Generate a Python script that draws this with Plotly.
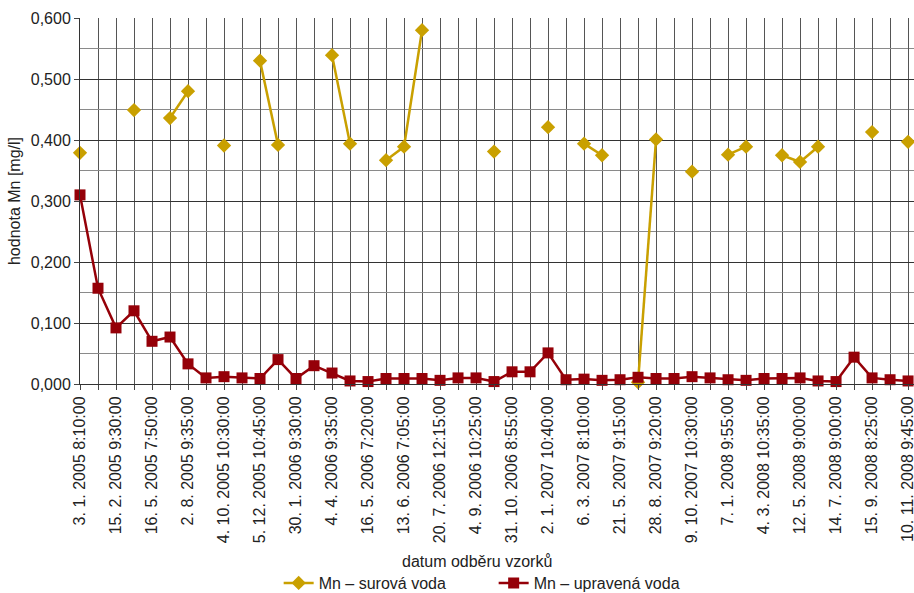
import plotly.graph_objects as go

# category index 0..46 (sampling dates); labels shown for every second category
tick_labels = [
    "3. 1. 2005 8:10:00", "15. 2. 2005 9:30:00", "16. 5. 2005 7:50:00", "2. 8. 2005 9:35:00",
    "4. 10. 2005 10:30:00", "5. 12. 2005 10:45:00", "30. 1. 2006 9:30:00", "4. 4. 2006 9:35:00",
    "16. 5. 2006 7:20:00", "13. 6. 2006 7:05:00", "20. 7. 2006 12:15:00", "4. 9. 2006 10:25:00",
    "31. 10. 2006 8:55:00", "2. 1. 2007 10:40:00", "6. 3. 2007 8:10:00", "21. 5. 2007 9:15:00",
    "28. 8. 2007 9:20:00", "9. 10. 2007 10:30:00", "7. 1. 2008 9:55:00", "4. 3. 2008 10:35:00",
    "12. 5. 2008 9:00:00", "14. 7. 2008 9:00:00", "15. 9. 2008 8:25:00", "10. 11. 2008 9:45:00",
]
n_cat = 47
cat_idx = list(range(n_cat))
tick_idx = list(range(0, n_cat, 2))

N = None
surova = [
    0.379, N, N, 0.449, N, 0.436, 0.480, N, 0.391, N,
    0.530, 0.392, N, N, 0.539, 0.394, N, 0.367, 0.389, 0.580,
    N, N, N, 0.381, N, N, 0.421, N, 0.394, 0.375,
    N, 0.003, 0.401, N, 0.348, N, 0.376, 0.389, N, 0.375,
    0.364, 0.389, N, N, 0.413, N, 0.397,
]
upravena = [
    0.310, 0.157, 0.092, 0.120, 0.070, 0.077, 0.033, 0.010, 0.012, 0.010,
    0.009, 0.040, 0.009, 0.030, 0.018, 0.005, 0.004, 0.009, 0.009, 0.009,
    0.006, 0.010, 0.010, 0.004, 0.020, 0.020, 0.051, 0.007, 0.008, 0.006,
    0.007, 0.011, 0.009, 0.009, 0.012, 0.010, 0.007, 0.006, 0.009, 0.009,
    0.010, 0.005, 0.004, 0.044, 0.010, 0.007, 0.005,
]

FONT = "Arial, Liberation Sans, Helvetica, sans-serif"
GOLD = "#C9A000"
RED = "#950008"

fig = go.Figure()
fig.add_trace(go.Scatter(
    x=cat_idx, y=surova, name="Mn – surová voda", mode="lines+markers",
    connectgaps=False,
    line=dict(color=GOLD, width=2.5),
    marker=dict(symbol="diamond", size=11, color=GOLD),
    cliponaxis=False,
))
fig.add_trace(go.Scatter(
    x=cat_idx, y=upravena, name="Mn – upravená voda", mode="lines+markers",
    line=dict(color=RED, width=2.5),
    marker=dict(symbol="square", size=11, color=RED),
    cliponaxis=False,
))

fig.update_layout(
    width=914, height=593,
    margin=dict(l=80, r=0, t=18, b=209, autoexpand=False),
    paper_bgcolor="white", plot_bgcolor="white",
    separators=", ",
    font=dict(family=FONT, size=16, color="#222"),
    showlegend=True,
    legend=dict(orientation="h", x=0.496, xanchor="center",
                yref="container", y=0.0169, yanchor="middle",
                font=dict(size=16, color="#222"), bgcolor="rgba(0,0,0,0)",
                entrywidth=170, itemwidth=30),
    xaxis=dict(
        range=[0, 46.33], tickmode="array", tickvals=tick_idx, ticktext=tick_labels,
        tickangle=-90, ticks="outside", ticklen=5, tickcolor="#444",
        ticklabeloverflow="allow", automargin=False,
        showgrid=True, gridcolor="#555", gridwidth=1,
        showline=True, linecolor="#333", linewidth=1, zeroline=False,
        tickfont=dict(size=16, color="#222"),
        minor=dict(tick0=0, dtick=1, showgrid=True, gridcolor="#555", gridwidth=1,
                   ticks="outside", ticklen=5, tickcolor="#444"),
    ),
    yaxis=dict(
        range=[0, 0.6], dtick=0.1, tickformat=".3f", automargin=False,
        ticks="outside", ticklen=5, tickcolor="#444",
        showgrid=True, gridcolor="#333", gridwidth=1,
        showline=True, linecolor="#333", linewidth=1, zeroline=False,
        tickfont=dict(size=16, color="#222"),
        minor=dict(dtick=0.05, showgrid=True, gridcolor="#8a8a8a", gridwidth=1),
    ),
    annotations=[
        dict(text="datum odběru vzorků", xref="paper", yref="paper",
             x=0.476, y=-0.484, xanchor="center", yanchor="middle", showarrow=False,
             font=dict(size=16, color="#222")),
        dict(text="hodnota Mn [mg/l]", xref="paper", yref="paper",
             x=-0.0791, y=0.5, xanchor="center", yanchor="middle", showarrow=False,
             textangle=-90, font=dict(size=16, color="#222")),
    ],
)

fig.write_html("out.html")
